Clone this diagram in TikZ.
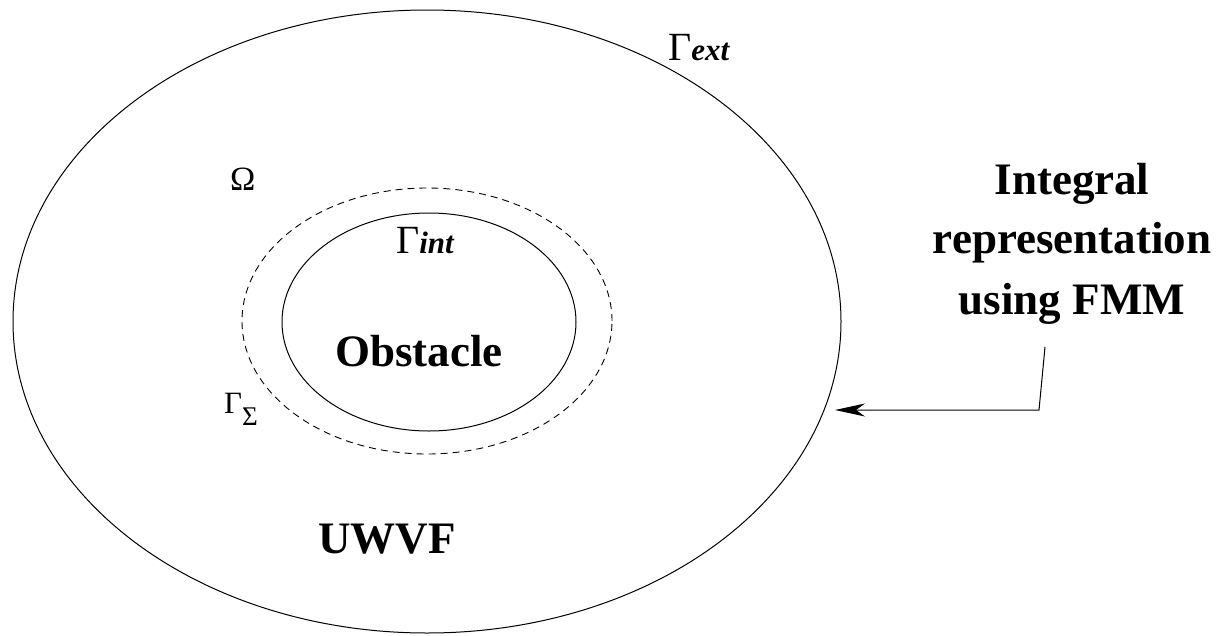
\documentclass[tikz,border=0pt]{standalone}
\usepackage{fontspec}
\setmainfont{Liberation Serif}
\usetikzlibrary{arrows.meta}
\begin{document}
\begin{tikzpicture}[x=1pt,y=-1pt,
  bigbold/.style={font=\fontsize{45}{54}\selectfont\bfseries, inner sep=0pt},
  glabel/.style={font=\fontsize{40}{48}\selectfont, inner sep=0pt, anchor=base west},
  curve/.style={line width=1pt},
  dashcurve/.style={line width=0.9pt, dash pattern=on 7pt off 5pt},
  conn/.style={line width=1pt, -{Stealth[length=30pt, width=13pt, inset=9pt]}}]
\useasboundingbox (0,0) rectangle (1216,635);
% boundaries
\draw[curve] (427,321.5) ellipse [x radius=414pt, y radius=311.5pt];
\draw[dashcurve] (427,321) ellipse [x radius=185pt, y radius=133pt];
\draw[curve] (429,322) ellipse [x radius=147pt, y radius=109pt];
% labels
\node[glabel] (gext) at (668,60) {Γ\fontsize{31}{36}\selectfont\bfseries\itshape ext};
\node[glabel] (gint) at (396,253) {Γ\fontsize{31}{36}\selectfont\bfseries\itshape int};
\node[glabel, font=\fontsize{34}{40}\selectfont] (omega) at (230,190) {Ω};
\node[glabel, font=\fontsize{31}{36}\selectfont] (gsig) at (224,413) {Γ\raisebox{-12pt}{\fontsize{27}{30}\selectfont Σ}};
\node[bigbold, anchor=base] (obst) at (419,366) {Obstacle};
\node[bigbold, anchor=base] (uwvf) at (387,553) {UWVF};
\node[bigbold, anchor=base] (l1) at (1072,194) {Integral};
\node[bigbold, anchor=base] (l2) at (1072,253) {representation};
\node[bigbold, anchor=base] (l3) at (1072,314) {using FMM};
% connector
\coordinate (a0) at (1045,347);
\coordinate (a1) at (1039,410);
\coordinate (a2) at (835,410);
\draw[conn] (a0) -- (a1) -- (a2);
\end{tikzpicture}
\end{document}
